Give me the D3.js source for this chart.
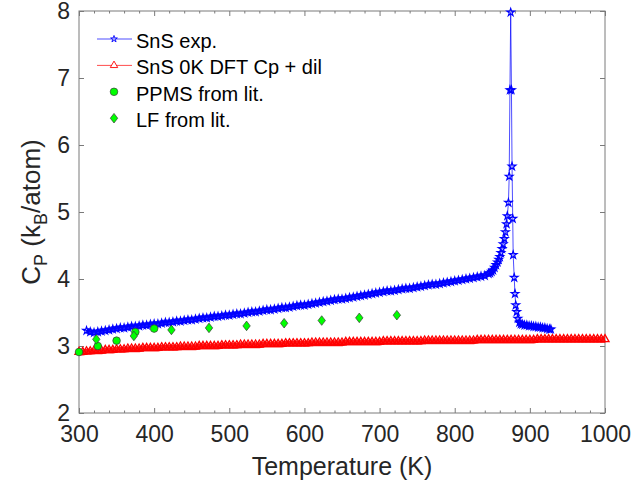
<!DOCTYPE html>
<html>
<head>
<meta charset="utf-8">
<script src="https://cdn.jsdelivr.net/npm/d3@7"></script>
<style>
  body { margin: 0; background: #fff; }
  svg { display: block; font-family: "Liberation Sans", Arial, Helvetica, sans-serif; }
</style>
</head>
<body>
<script>
// SnS heat capacity: experiment vs DFT vs literature

// --- data ---
// experiment, dense part (5 K grid)
var expT_flat = d3.range(310, 845, 5);
var expCp_flat = [
  3.23,3.21,3.20,3.21,3.22,3.23,3.24,3.25,3.26,3.27,
  3.27,3.28,3.29,3.29,3.30,3.31,3.31,3.32,3.33,3.33,
  3.34,3.35,3.35,3.36,3.37,3.37,3.38,3.39,3.39,3.40,
  3.41,3.42,3.42,3.43,3.44,3.44,3.45,3.46,3.46,3.47,
  3.48,3.48,3.49,3.50,3.51,3.51,3.52,3.53,3.54,3.54,
  3.55,3.56,3.57,3.57,3.58,3.59,3.60,3.61,3.61,3.62,
  3.63,3.64,3.65,3.66,3.67,3.68,3.69,3.70,3.70,3.71,
  3.72,3.73,3.74,3.75,3.76,3.77,3.78,3.79,3.80,3.81,
  3.82,3.82,3.83,3.84,3.85,3.86,3.86,3.87,3.88,3.89,
  3.90,3.91,3.92,3.92,3.93,3.94,3.95,3.96,3.97,3.98,
  3.99,4.00,4.01,4.02,4.03,4.04,4.05
];
// experiment, around the transition peak
var expT_peak = [845,847,849,851,853,855,857,858.5,860,861.5,863,864.5,866,867.5,869,870,871.5,872.5,873.5,874.5,
  875.5,876.3,877.2,877.8,879.2,880.2,881.2,882.5,884,886,888,890,893,896,899,902,905,908,911,914,917,920,923,926,928];
var expCp_peak = [4.08,4.09,4.11,4.13,4.17,4.21,4.25,4.29,4.33,4.39,4.45,4.52,4.60,4.70,4.82,4.94,5.14,5.53,6.82,7.98,
  6.82,5.68,4.90,4.36,4.02,3.78,3.61,3.51,3.41,3.35,3.33,3.32,3.31,3.31,3.30,3.30,3.29,3.29,3.28,3.28,3.27,3.27,3.26,3.25,3.25];

// DFT 0K + dilation (5 K grid)
var dftT = d3.range(300, 1001, 5);
var dftCp = [
  2.91,2.91,2.92,2.92,2.93, 2.93,2.93,2.94,2.94,2.94,
  2.95,2.95,2.95,2.96,2.96, 2.96,2.96,2.97,2.97,2.97,
  2.97,2.97,2.98,2.98,2.98, 2.98,2.98,2.99,2.99,2.99,
  2.99,2.99,3.00,3.00,3.00, 3.00,3.00,3.00,3.01,3.01,
  3.01,3.01,3.01,3.02,3.02, 3.02,3.02,3.02,3.02,3.03,
  3.03,3.03,3.03,3.03,3.03, 3.04,3.04,3.04,3.04,3.04,
  3.04,3.04,3.05,3.05,3.05, 3.05,3.05,3.05,3.05,3.05,
  3.05,3.06,3.06,3.06,3.06, 3.06,3.06,3.06,3.06,3.06,
  3.06,3.07,3.07,3.07,3.07, 3.07,3.07,3.07,3.07,3.07,
  3.07,3.07,3.08,3.08,3.08, 3.08,3.08,3.08,3.08,3.08,
  3.08,3.08,3.08,3.08,3.08, 3.08,3.09,3.09,3.09,3.09,
  3.09,3.09,3.09,3.09,3.09, 3.09,3.09,3.09,3.09,3.09,
  3.09,3.09,3.10,3.10,3.10, 3.10,3.10,3.10,3.10,3.10,
  3.10,3.10,3.10,3.10,3.10, 3.10,3.10,3.10,3.10,3.10,
  3.10
];

// literature
var ppmsT = [300, 325, 350, 375, 400];
var ppmsCp = [2.91, 3.00, 3.08, 3.21, 3.26];
var lfT = [323, 373, 423, 473, 523, 573, 623, 673, 723];
var lfCp = [3.10, 3.15, 3.24, 3.27, 3.30, 3.34, 3.38, 3.42, 3.46];

var xTicks = [300, 400, 500, 600, 700, 800, 900, 1000];
var yTicks = [2, 3, 4, 5, 6, 7, 8];
var legendNames = ["SnS exp.", "SnS 0K DFT Cp + dil", "PPMS from lit.", "LF from lit."];

// --- layout ---
var width = 632, height = 490;
var margin = {top: 11, right: 27, bottom: 77, left: 79};
var w = width - margin.left - margin.right,
    h = height - margin.top - margin.bottom;

var axisCol = "#7a7a7a", textCol = "#262626";

var svg = d3.select("body").append("svg")
  .attr("width", width)
  .attr("height", height);

var g = svg.append("g")
  .attr("transform", "translate(" + margin.left + "," + margin.top + ")");

var x = d3.scaleLinear().domain([300, 1000]).range([0, w]);
var y = d3.scaleLinear().domain([2, 8]).range([h, 0]);

// build point lists
var expData = expT_flat.map(function(t, i) { return {t: t, cp: expCp_flat[i]}; })
  .concat(expT_peak.map(function(t, i) { return {t: t, cp: expCp_peak[i]}; }));
var dftData = dftT.map(function(t, i) { return {t: t, cp: dftCp[i]}; });
var ppmsData = ppmsT.map(function(t, i) { return {t: t, cp: ppmsCp[i]}; });
var lfData = lfT.map(function(t, i) { return {t: t, cp: lfCp[i]}; });

// box
g.append("rect")
  .attr("width", w).attr("height", h)
  .attr("fill", "none")
  .attr("stroke", axisCol)
  .attr("stroke-width", 1);

// ticks (inside, mirrored like matlab box on)
var minorX = d3.range(300, 1001, 20).filter(function(v) { return v % 100 !== 0; });

var xBottom = d3.axisBottom(x).tickValues(xTicks).tickSizeInner(-5).tickSizeOuter(0).tickPadding(13).tickFormat(d3.format("d"));
var xTop = d3.axisTop(x).tickValues(xTicks).tickSizeInner(-5).tickSizeOuter(0).tickFormat("");
var xBottomMinor = d3.axisBottom(x).tickValues(minorX).tickSizeInner(-2.5).tickSizeOuter(0).tickFormat("");
var xTopMinor = d3.axisTop(x).tickValues(minorX).tickSizeInner(-2.5).tickSizeOuter(0).tickFormat("");
var yLeft = d3.axisLeft(y).tickValues(yTicks).tickSizeInner(-5).tickSizeOuter(0).tickPadding(9).tickFormat(d3.format("d"));
var yRight = d3.axisRight(y).tickValues(yTicks).tickSizeInner(-5).tickSizeOuter(0).tickFormat("");

function styleAxis(sel) {
  sel.select(".domain").remove();
  sel.selectAll(".tick line").attr("stroke", axisCol);
  sel.selectAll(".tick text")
    .attr("fill", textCol)
    .style("font-size", "23px")
    .style("font-family", "'Liberation Sans', Arial, sans-serif");
}

g.append("g").attr("transform", "translate(0," + h + ")").call(xBottom).call(styleAxis);
g.append("g").attr("transform", "translate(0," + h + ")").call(xBottomMinor).call(styleAxis);
g.append("g").call(xTop).call(styleAxis);
g.append("g").call(xTopMinor).call(styleAxis);
g.append("g").call(yLeft).call(styleAxis);
g.append("g").attr("transform", "translate(" + w + ",0)").call(yRight).call(styleAxis);

// axis labels
svg.append("text")
  .attr("x", margin.left + w / 2)
  .attr("y", 475)
  .attr("text-anchor", "middle")
  .attr("fill", textCol)
  .style("font-size", "25px")
  .text("Temperature (K)");

var ylab = svg.append("text")
  .attr("transform", "translate(40," + (margin.top + h / 2) + ") rotate(-90)")
  .attr("text-anchor", "middle")
  .attr("fill", textCol)
  .style("font-size", "26px");
ylab.append("tspan").text("C");
ylab.append("tspan").attr("dy", 7).style("font-size", "18px").text("P");
ylab.append("tspan").attr("dy", -7).text(" (k");
ylab.append("tspan").attr("dy", 7).style("font-size", "18px").text("B");
ylab.append("tspan").attr("dy", -7).text("/atom)");

// marker shapes
var star = d3.symbol().type(d3.symbolStar).size(18);
var tri = d3.symbol().type(d3.symbolTriangle).size(28);
function diamondPath(hw, hh) {
  return "M0," + (-hh) + "L" + hw + ",0L0," + hh + "L" + (-hw) + ",0Z";
}

var line = d3.line()
  .x(function(d) { return x(d.t); })
  .y(function(d) { return y(d.cp); });

// the measured points sit so close together that they merge into a band
var expBand = [expData.filter(function(d) { return d.t <= 855; }),
               expData.filter(function(d) { return d.t >= 885; })];

// SnS exp.
g.selectAll(".expband")
  .data(expBand)
  .enter().append("path")
  .attr("class", "expband")
  .attr("d", line)
  .attr("fill", "none")
  .attr("stroke", "#0a0aff")
  .attr("stroke-width", 6)
  .attr("stroke-linejoin", "round")
  .attr("opacity", 0.85);

g.append("path")
  .datum(expData)
  .attr("d", line)
  .attr("fill", "none")
  .attr("stroke", "#0000ff")
  .attr("stroke-width", 0.7);

g.selectAll(".exp")
  .data(expData)
  .enter().append("path")
  .attr("class", "exp")
  .attr("d", star)
  .attr("transform", function(d) { return "translate(" + x(d.t) + "," + y(d.cp) + ")"; })
  .attr("fill", "none")
  .attr("stroke", "#0000ff")
  .attr("stroke-width", 1.2);

// DFT
g.append("path")
  .datum(dftData)
  .attr("d", line)
  .attr("fill", "none")
  .attr("stroke", "#ff0000")
  .attr("stroke-width", 6)
  .attr("opacity", 0.9)
  .attr("transform", "translate(0,0.5)");

g.selectAll(".dft")
  .data(dftData)
  .enter().append("path")
  .attr("class", "dft")
  .attr("d", tri)
  .attr("transform", function(d) { return "translate(" + x(d.t) + "," + y(d.cp) + ")"; })
  .attr("fill", "none")
  .attr("stroke", "#ff0000")
  .attr("stroke-width", 1.3);

// PPMS
g.selectAll(".ppms")
  .data(ppmsData)
  .enter().append("circle")
  .attr("class", "ppms")
  .attr("cx", function(d) { return x(d.t); })
  .attr("cy", function(d) { return y(d.cp); })
  .attr("r", 3.8)
  .attr("fill", "#00ff00")
  .attr("stroke", "#3a3a3a")
  .attr("stroke-width", 0.7);

// LF
g.selectAll(".lf")
  .data(lfData)
  .enter().append("path")
  .attr("class", "lf")
  .attr("d", diamondPath(3.7, 4.8))
  .attr("transform", function(d) { return "translate(" + x(d.t) + "," + y(d.cp) + ")"; })
  .attr("fill", "#00ff00")
  .attr("stroke", "#3a3a3a")
  .attr("stroke-width", 0.7);

// legend (no box)
var leg = svg.append("g").attr("class", "legend");
var rowY = [39, 65.4, 91.8, 118.2];
var lx0 = 97, lx1 = 132, lxm = 114, ltx = 136;

leg.append("line").attr("x1", lx0).attr("x2", lx1).attr("y1", rowY[0]).attr("y2", rowY[0])
  .attr("stroke", "#0000ff").attr("stroke-width", 0.7);
leg.append("path").attr("d", d3.symbol().type(d3.symbolStar).size(14)).attr("transform", "translate(" + lxm + "," + rowY[0] + ")")
  .attr("fill", "none").attr("stroke", "#0000ff").attr("stroke-width", 0.9);

leg.append("line").attr("x1", lx0).attr("x2", lx1).attr("y1", rowY[1]).attr("y2", rowY[1])
  .attr("stroke", "#ff0000").attr("stroke-width", 0.7);
leg.append("path").attr("d", d3.symbol().type(d3.symbolTriangle).size(24)).attr("transform", "translate(" + lxm + "," + rowY[1] + ")")
  .attr("fill", "#fff").attr("stroke", "#ff0000").attr("stroke-width", 0.9);

leg.append("circle").attr("cx", lxm).attr("cy", rowY[2]).attr("r", 3.8)
  .attr("fill", "#00ff00").attr("stroke", "#3a3a3a").attr("stroke-width", 0.7);

leg.append("path").attr("d", diamondPath(3.7, 4.8)).attr("transform", "translate(" + lxm + "," + rowY[3] + ")")
  .attr("fill", "#00ff00").attr("stroke", "#3a3a3a").attr("stroke-width", 0.7);

leg.selectAll(".ltext")
  .data(legendNames)
  .enter().append("text")
  .attr("class", "ltext")
  .attr("x", ltx)
  .attr("y", function(d, i) { return rowY[i] + 1.5; })
  .attr("dy", "0.36em")
  .attr("fill", "#000")
  .style("font-size", "20px")
  .text(function(d) { return d; });
</script>
</body>
</html>
